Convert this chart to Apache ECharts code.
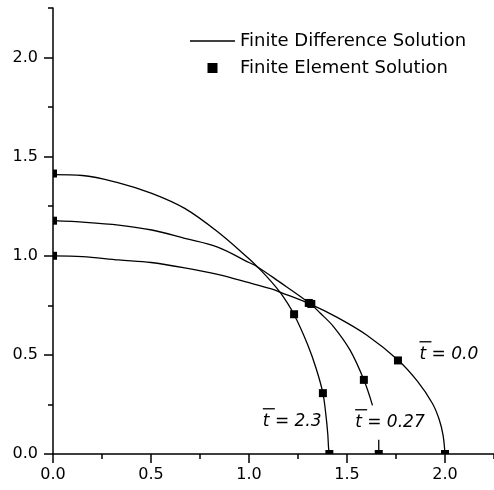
<!DOCTYPE html>
<html><head><meta charset="utf-8">
<script src="https://cdn.jsdelivr.net/npm/echarts@6/dist/echarts.min.js"></script>
<style>html,body{margin:0;padding:0;background:#fff}#c{width:494px;height:490px}</style>
</head><body><div id="c"></div>
<script>
// ---- data ----
const majorTicks = [0, 0.5, 1.0, 1.5, 2.0];

// Finite difference curves (x, y)
const curveT00 = [
  [0, 1.0], [0.15, 0.996], [0.335, 0.979], [0.5, 0.966], [0.672, 0.939], [0.84, 0.906],
  [1.0, 0.864], [1.11, 0.834], [1.17, 0.812], [1.31, 0.757], [1.45, 0.689], [1.6, 0.6],
  [1.76, 0.474], [1.86, 0.366], [1.936, 0.255], [1.97, 0.175], [1.99, 0.095], [2.0, 0]
];
const curveT027 = [
  [0, 1.177], [0.167, 1.169], [0.335, 1.155], [0.504, 1.13], [0.672, 1.088], [0.84, 1.044],
  [1.0, 0.966], [1.042, 0.945], [1.15, 0.872], [1.31, 0.76], [1.364, 0.71], [1.431, 0.643],
  [1.515, 0.525], [1.586, 0.374], [1.63, 0.245], null, [1.662, 0.072], [1.662, 0]
];
const curveT23 = [
  [0, 1.409], [0.15, 1.405], [0.335, 1.368], [0.504, 1.315], [0.672, 1.239], [0.84, 1.121],
  [1.0, 0.985], [1.042, 0.945], [1.1, 0.885], [1.162, 0.811], [1.229, 0.705], [1.3, 0.55],
  [1.343, 0.43], [1.377, 0.307], [1.392, 0.2], [1.402, 0.1], [1.406, 0.03], [1.41, 0]
];

// Finite element points (x, y)
const feSolution = [
  [0, 1.415], [0, 1.177], [0, 1.0], [1.23, 0.705], [1.305, 0.762], [1.318, 0.757],
  [1.377, 0.307], [1.586, 0.374], [1.76, 0.472], [1.41, 0], [1.662, 0], [2.0, 0]
];

// Curve annotations: text and where they sit (data coords, left / bottom of label)
const curveLabels = ['t = 0.0', 't = 2.3', 't = 0.27'];
const labelAnchors = [[1.852, 0.465], [1.053, 0.127], [1.524, 0.122]];

const FD_NAME = 'Finite Difference Solution';
const FE_NAME = 'Finite Element Solution';
const FONT = 'DejaVu Sans';
const SQ = 8;

// ---- chart ----
const chart = echarts.init(document.getElementById('c'), null, {renderer: 'canvas'});
const axisLineStyle = {color: '#000', width: 1.5};
function mainAxis(pos, margin) {
  return {
    type: 'value', min: 0, max: 2.25, interval: 0.25, position: pos,
    axisLine: {show: true, onZero: false, lineStyle: axisLineStyle},
    axisTick: {show: true, inside: false, length: 9, customValues: majorTicks, lineStyle: axisLineStyle},
    axisLabel: {show: true, customValues: majorTicks, formatter: v => Number(v).toFixed(1),
      fontSize: 16, fontFamily: FONT, color: '#000', margin: margin},
    splitLine: {show: false}
  };
}
function minorAxis(pos) {
  return {
    type: 'value', min: 0, max: 2.25, interval: 0.25, position: pos,
    axisLine: {show: false, onZero: false},
    axisTick: {show: true, inside: false, length: 5, lineStyle: axisLineStyle},
    axisLabel: {show: false},
    splitLine: {show: false}
  };
}
// squares sitting on an axis are cut by the plot frame: show only the inner half
function feItem(p) {
  if (p[0] === 0) return {value: p, symbolSize: [SQ / 2, SQ], symbolOffset: [SQ / 4, 0]};
  if (p[1] === 0) return {value: p, symbolSize: [SQ, SQ / 2], symbolOffset: [0, -SQ / 4]};
  return {value: p};
}
const lineCommon = {
  type: 'line', name: FD_NAME, showSymbol: false, symbol: 'none', smooth: 0.35,
  connectNulls: false, clip: true,
  lineStyle: {color: '#000', width: 1.3}, itemStyle: {color: '#000'}, z: 2
};
chart.setOption({
  animation: false,
  backgroundColor: '#fff',
  grid: {left: 53, right: -4.5, top: 8, bottom: 36, containLabel: false},
  xAxis: [mainAxis('bottom', 13), minorAxis('bottom')],
  yAxis: [mainAxis('left', 15), minorAxis('left')],
  legend: {
    show: true,
    data: [
      {name: FD_NAME, icon: 'path://M0,0H45V1.3H0Z'},
      {name: FE_NAME, icon: 'path://M0,0H10V10H0Z'}
    ],
    orient: 'vertical', left: 190, top: 32, padding: 0,
    itemWidth: 45, itemHeight: 10, itemGap: 9,
    itemStyle: {color: '#000'},
    textStyle: {fontSize: 18, fontFamily: FONT, color: '#000'},
    selectedMode: false
  },
  series: [
    Object.assign({}, lineCommon, {data: curveT00}),
    Object.assign({}, lineCommon, {data: curveT027}),
    Object.assign({}, lineCommon, {data: curveT23}),
    {
      type: 'scatter', name: FE_NAME, data: feSolution.map(feItem), symbol: 'rect', symbolSize: SQ,
      clip: true, itemStyle: {color: '#000', opacity: 1}, z: 3
    },
    {
      type: 'scatter', name: 'curve labels', silent: true, clip: false, symbolSize: 0.1,
      itemStyle: {color: 'rgba(0,0,0,0)'}, z: 4,
      data: labelAnchors.map((p, i) => ({value: p, name: curveLabels[i]})),
      label: {
        show: true, position: [0, 0], offset: [3.5, 1], align: 'left', verticalAlign: 'bottom',
        color: '#000', opacity: 1, textBorderWidth: 0,
        formatter: p => '{bar| }\n{txt|' + p.name + '}',
        rich: {
          bar: {width: 12, height: 1.3, backgroundColor: '#000', lineHeight: 8, fontSize: 17},
          txt: {fontSize: 17, fontStyle: 'italic', fontFamily: FONT, color: '#000', lineHeight: 17}
        }
      }
    }
  ]
});
</script>
</body></html>
